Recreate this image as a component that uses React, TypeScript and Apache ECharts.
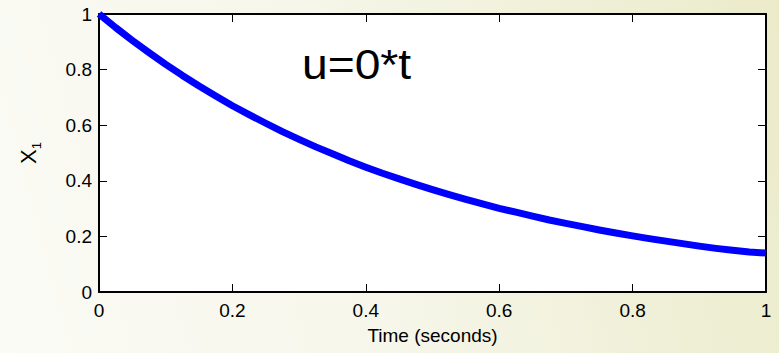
import React, { useEffect, useRef } from "react";
import * as echarts from "echarts";

const timeValues = [
  0, 0.025, 0.05, 0.075, 0.1, 0.125, 0.15, 0.175, 0.2, 0.225, 0.25, 0.275, 0.3,
  0.325, 0.35, 0.375, 0.4, 0.425, 0.45, 0.475, 0.5, 0.525, 0.55, 0.575, 0.6,
  0.625, 0.65, 0.675, 0.7, 0.725, 0.75, 0.775, 0.8, 0.825, 0.85, 0.875, 0.9,
  0.925, 0.95, 0.975, 1.0,
];
const x1Values = [
  1.0, 0.951, 0.905, 0.861, 0.819, 0.779, 0.741, 0.705, 0.67, 0.638, 0.607,
  0.577, 0.549, 0.522, 0.497, 0.472, 0.449, 0.427, 0.407, 0.387, 0.368, 0.35,
  0.333, 0.317, 0.301, 0.287, 0.273, 0.259, 0.247, 0.235, 0.223, 0.212, 0.202,
  0.192, 0.183, 0.174, 0.165, 0.157, 0.15, 0.144, 0.14,
];
const xTicks = [0, 0.2, 0.4, 0.6, 0.8, 1];
const yTicks = [0, 0.2, 0.4, 0.6, 0.8, 1];
const xTitle = "Time (seconds)";
const yTitleMain = "X";
const yTitleSub = "1";
const annotation = "u=0*t";

const FONT = "'Liberation Sans', Arial, Helvetica, sans-serif";

export default function App() {
  const ref = useRef<HTMLDivElement>(null);
  useEffect(() => {
    document.body.style.margin = "0";
    if (!ref.current) return;
    const chart = echarts.init(ref.current, null, { renderer: "svg" });
    const axisLine = { show: true, onZero: false, lineStyle: { color: "#000", width: 2 } };
    const axisTick = { show: true, inside: true, length: 8, lineStyle: { color: "#000", width: 1 } };
    const labelStyle = { color: "#000", fontSize: 19, fontFamily: FONT };
    const xMin = xTicks[0];
    const xMax = xTicks[xTicks.length - 1];
    const yMin = yTicks[0];
    const yMax = yTicks[yTicks.length - 1];
    const xInt = xTicks[1] - xTicks[0];
    const yInt = yTicks[1] - yTicks[0];
    chart.setOption({
      animation: false,
      backgroundColor: "transparent",
      grid: {
        left: 99,
        right: 13,
        top: 14,
        bottom: 61,
        show: true,
        backgroundColor: "#ffffff",
        borderWidth: 0,
      },
      xAxis: [
        {
          type: "value",
          position: "bottom",
          min: xMin,
          max: xMax,
          interval: xInt,
          axisLine,
          axisTick,
          splitLine: { show: false },
          axisLabel: { ...labelStyle, margin: 9 },
          name: xTitle,
          nameLocation: "middle",
          nameGap: 34,
          nameTextStyle: { color: "#000", fontSize: 19, fontFamily: FONT },
        },
        {
          type: "value",
          position: "top",
          min: xMin,
          max: xMax,
          interval: xInt,
          axisLine,
          axisTick,
          splitLine: { show: false },
          axisLabel: { show: false },
        },
      ],
      yAxis: [
        {
          type: "value",
          position: "left",
          min: yMin,
          max: yMax,
          interval: yInt,
          axisLine,
          axisTick,
          splitLine: { show: false },
          axisLabel: { ...labelStyle, margin: 7 },
          name: `{a|${yTitleMain}}{b|${yTitleSub}}`,
          nameLocation: "middle",
          nameRotate: 90,
          nameGap: 56,
          nameTextStyle: {
            color: "#000",
            fontFamily: FONT,
            rich: {
              a: { fontSize: 22, fontFamily: FONT, color: "#000", lineHeight: 30, verticalAlign: "middle" },
              b: { fontSize: 13, fontFamily: FONT, color: "#000", verticalAlign: "bottom" },
            },
          },
        },
        {
          type: "value",
          position: "right",
          min: yMin,
          max: yMax,
          interval: yInt,
          axisLine,
          axisTick,
          splitLine: { show: false },
          axisLabel: { show: false },
        },
      ],
      series: [
        {
          type: "line",
          xAxisIndex: 0,
          yAxisIndex: 0,
          data: timeValues.map((t, i) => [t, x1Values[i]]),
          showSymbol: false,
          symbol: "none",
          clip: false,
          lineStyle: { color: "#0000ff", width: 7, cap: "butt", join: "round" },
          z: 5,
        },
      ],
      graphic: [
        {
          type: "text",
          x: 302,
          y: 64,
          scaleX: 1.1,
          style: {
            text: annotation,
            fontSize: 42,
            fontFamily: FONT,
            fill: "#000",
            align: "left",
            verticalAlign: "middle",
          },
        },
      ],
    });
    return () => chart.dispose();
  }, []);
  return (
    <div
      ref={ref}
      style={{
        width: 779,
        height: 353,
        background: "linear-gradient(75deg, #fbfbf6 0%, #f6f6ea 45%, #ebebca 100%)",
      }}
    />
  );
}
